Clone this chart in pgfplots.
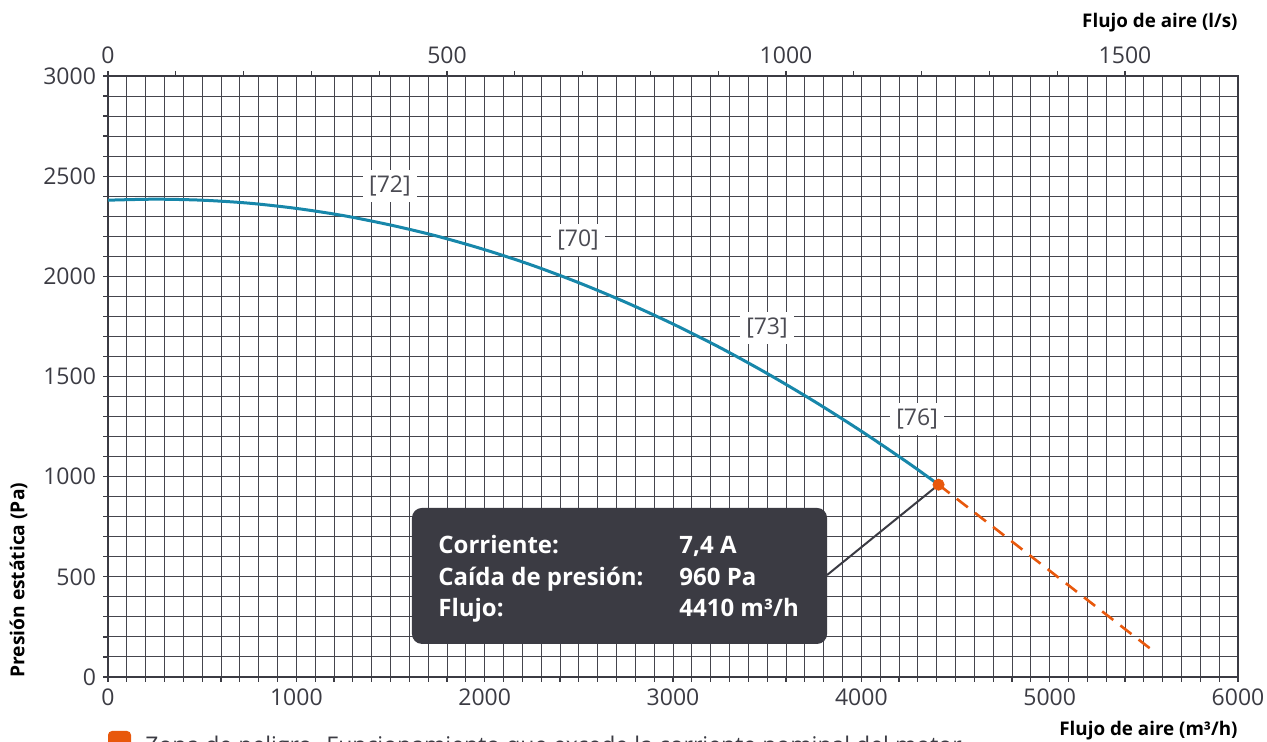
\documentclass[border=0pt]{standalone}
\usepackage{pgfplots}
\pgfplotsset{compat=1.18}
\usepackage{fontspec}
\setmainfont{Open Sans}
\definecolor{ink}{HTML}{3B3B43}
\definecolor{gridc}{HTML}{45454D}
\definecolor{curveblue}{HTML}{1787AA}
\definecolor{danger}{HTML}{E8580C}
\definecolor{labc}{HTML}{4A4A52}
\begin{document}
\begin{tikzpicture}
\useasboundingbox (-54pt,-32.5pt) rectangle (579.5pt,338.5pt); % crop like the reference
% main axis: m3/h vs Pa
\begin{axis}[
  at={(0pt,0pt)}, anchor=south west,
  scale only axis, width=565pt, height=300.5pt,
  xmin=0, xmax=6000, ymin=0, ymax=3000,
  xtick={0,1000,...,6000}, ytick={0,500,...,3000},
  minor x tick num=9, minor y tick num=4,
  xtick pos=left, ytick pos=left,
  grid=both,
  major grid style={draw=gridc, line width=0.5pt},
  minor grid style={draw=gridc, line width=0.5pt},
  axis line style={draw=ink, line width=0.8pt},
  tick style={draw=ink, line width=0.6pt},
  tick align=outside,
  major tick length=2.5pt, minor tick length=2.5pt,
  ticklabel style={font=\fontsize{11.5}{13}\selectfont, text=ink},
  /pgf/number format/assume math mode=true,
  /pgf/number format/1000 sep={},
  clip=false,
]
% fan curve
\addplot[curveblue, line width=1.5pt, smooth] coordinates {
  (0,2380) (250,2385) (500,2380) (750,2365) (1000,2339) (1250,2303)
  (1500,2256) (1750,2200) (2000,2133) (2250,2056) (2500,1968)
  (2750,1870) (3000,1762) (3250,1644) (3500,1515) (3750,1376)
  (4000,1227) (4250,1068) (4410,960)};
% danger zone
\addplot[danger, line width=1.3pt, dash pattern=on 7pt off 4.5pt] coordinates {(4410,960) (5550,130)};
% callout
\draw[ink, line width=1pt] (axis cs:3818,509) -- (axis cs:4410,960);
\fill[ink, rounded corners=5pt] (axis cs:1614,165) rectangle (axis cs:3818,844);
\addplot[only marks, mark=*, mark size=2.8pt, danger] coordinates {(4410,960)};
\begin{scope}[every node/.style={anchor=base west, inner sep=0pt, text=white, font=\fontsize{12}{14}\bfseries}]
\node at (axis cs:1752,614) {Corriente:};
\node at (axis cs:3032,614) {7,4 A};
\node at (axis cs:1752,459) {Caída de presión:};
\node at (axis cs:3032,459) {960 Pa};
\node at (axis cs:1752,300) {Flujo:};
\node at (axis cs:3032,300) {4410 m³/h};
\end{scope}
% speed labels
\begin{scope}[every node/.style={fill=white, text=labc, inner sep=3pt, font=\fontsize{11.5}{13}\selectfont}]
\node at (axis cs:1497,2451) {[72]};
\node at (axis cs:2496,2181) {[70]};
\node at (axis cs:3499,1742) {[73]};
\node at (axis cs:4296,1288) {[76]};
\end{scope}
\end{axis}
% secondary axis: l/s
\begin{axis}[
  at={(0pt,0pt)}, anchor=south west,
  scale only axis, width=565pt, height=300.5pt,
  xmin=0, xmax=1666.667, ymin=0, ymax=3000,
  axis x line*=top, axis y line=none,
  xtick={0,500,1000,1500}, minor x tick num=4, ytick=\empty,
  axis line style={draw=ink, line width=0.8pt},
  tick style={draw=ink, line width=0.6pt},
  tick align=outside,
  major tick length=2.5pt, minor tick length=2.5pt,
  ticklabel style={font=\fontsize{11.5}{13}\selectfont, text=ink},
  /pgf/number format/assume math mode=true,
  /pgf/number format/1000 sep={},
]
\end{axis}
% axis titles
\node[rotate=90, anchor=west, inner sep=0pt, font=\fontsize{9.6}{11}\bfseries, text=black] at (-44.75pt,-0.5pt) {Presión estática (Pa)};
\node[anchor=east, inner sep=0pt, font=\fontsize{9.4}{11}\bfseries, text=black] at (565pt,-27pt) {Flujo de aire (m³/h)};
\node[anchor=east, inner sep=0pt, font=\fontsize{9.4}{11}\bfseries, text=black] at (565pt,327.25pt) {Flujo de aire (l/s)};
% legend (cut by the page edge as in the reference)
\fill[danger, rounded corners=2pt] (0pt,-27pt) rectangle (11.5pt,-38.5pt);
\node[anchor=base west, inner sep=0pt, font=\fontsize{11.5}{13}\selectfont, text=ink] at (18.5pt,-38.2pt) {Zona de peligro. Funcionamiento que excede la corriente nominal del motor};
\end{tikzpicture}
\end{document}
